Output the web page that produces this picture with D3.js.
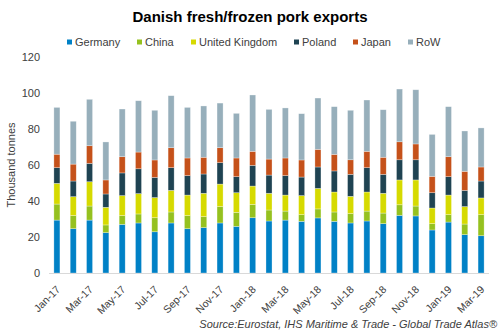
<!DOCTYPE html>
<html>
<head>
<meta charset="utf-8">
<script src="https://d3js.org/d3.v7.min.js"></script>
<style>
  body { margin: 0; background: #fff; }
  text { font-family: "Liberation Sans", Arial, sans-serif; }
</style>
</head>
<body>
<div id="chart"></div>
<script>
// months on the x axis
var months = ["Jan-17","Feb-17","Mar-17","Apr-17","May-17","Jun-17","Jul-17","Aug-17","Sep-17","Oct-17","Nov-17","Dec-17",
              "Jan-18","Feb-18","Mar-18","Apr-18","May-18","Jun-18","Jul-18","Aug-18","Sep-18","Oct-18","Nov-18","Dec-18",
              "Jan-19","Feb-19","Mar-19"];

// thousand tonnes per destination
var germany = [29.4,24.6,29.4,22.4,27.0,27.8,22.9,27.8,24.6,25.2,27.8,25.9,30.7,28.9,29.4,28.7,30.6,28.7,27.8,28.9,27.4,32.0,31.7,23.9,28.3,21.3,20.7];
var china   = [8.9,7.3,7.8,4.3,4.9,5.0,7.8,6.1,7.3,6.1,9.1,7.8,7.4,6.1,5.0,3.7,5.0,5.2,5.2,5.5,5.9,5.9,5.5,3.5,4.1,5.9,11.7];
var uk      = [11.5,10.5,13.5,9.8,11.1,11.3,11.2,12.0,11.4,13.0,12.5,10.9,10.2,9.3,8.9,10.6,11.4,11.1,9.6,10.6,11.0,13.8,14.5,8.7,10.9,9.7,9.3];
var poland  = [8.7,8.7,10.2,7.4,12.6,13.8,11.2,12.6,10.8,10.7,11.9,8.9,11.5,10.1,10.8,10.3,11.9,11.7,12.2,13.5,10.5,11.2,11.2,8.5,10.2,9.0,9.4];
var japan   = [7.5,9.4,9.8,7.8,9.0,9.3,9.7,11.1,9.8,9.3,8.3,10.4,7.8,8.9,9.8,9.5,9.8,9.2,8.1,9.1,9.5,10.0,8.8,9.1,11.1,10.6,7.8];
var row     = [26.0,23.8,25.8,21.1,26.5,28.5,27.6,28.9,28.1,28.5,24.8,24.8,31.3,27.6,27.8,25.7,28.5,26.5,27.5,28.5,26.4,29.3,30.1,23.3,27.8,22.4,21.7];

var seriesNames = ["Germany","China","United Kingdom","Poland","Japan","RoW"];
var seriesValues = [germany, china, uk, poland, japan, row];
var colors = ["#0081c6","#95c11f","#d6da00","#1f4352","#c5511a","#97afbb"];
var yTicks = [0,20,40,60,80,100,120];

var W = 500, H = 334;
var margin = {top: 57, right: 11, bottom: 61, left: 49};

var svg = d3.select("#chart").append("svg")
  .attr("width", W).attr("height", H);

// build rows for stacking
var table = months.map(function(m, i) {
  var o = {month: m};
  seriesNames.forEach(function(s, j) { o[s] = seriesValues[j][i]; });
  return o;
});
var stacked = d3.stack().keys(seriesNames)(table);

var x = d3.scaleBand()
  .domain(months)
  .range([margin.left, W - margin.right])
  .paddingInner(0.63)
  .paddingOuter(0.3);

var y = d3.scaleLinear()
  .domain([0, 120])
  .range([H - margin.bottom, margin.top]);

var color = d3.scaleOrdinal().domain(seriesNames).range(colors);

// title
svg.append("text")
  .attr("x", 250).attr("y", 22)
  .attr("text-anchor", "middle")
  .style("font-size", "15px")
  .style("font-weight", "bold")
  .style("fill", "#000")
  .text("Danish fresh/frozen pork exports");

// legend
var legendX = [67, 137, 191, 294, 353, 408];
var legend = svg.append("g");
seriesNames.forEach(function(s, i) {
  legend.append("rect")
    .attr("x", legendX[i]).attr("y", 39.5)
    .attr("width", 5).attr("height", 5)
    .attr("fill", color(s));
  legend.append("text")
    .attr("x", legendX[i] + 8).attr("y", 46)
    .style("font-size", "11px")
    .style("fill", "#404040")
    .text(s);
});

// bars
svg.append("g")
  .selectAll("g")
  .data(stacked)
  .join("g")
    .attr("fill", function(d) { return color(d.key); })
  .selectAll("rect")
  .data(function(d) { return d; })
  .join("rect")
    .attr("x", function(d) { return x(d.data.month); })
    .attr("y", function(d) { return y(d[1]); })
    .attr("width", x.bandwidth())
    .attr("height", function(d) { return y(d[0]) - y(d[1]); })
    .attr("stroke", "#ffffff")
    .attr("stroke-opacity", 0.5)
    .attr("stroke-width", 0.6);

// y axis (labels only)
var yAxis = svg.append("g")
  .attr("transform", "translate(" + margin.left + ",0)")
  .call(d3.axisLeft(y).tickValues(yTicks).tickSize(0).tickPadding(9));
yAxis.select(".domain").remove();
yAxis.selectAll("text")
  .style("font-size", "11px")
  .style("fill", "#404040")
  .style("font-family", "\"Liberation Sans\", Arial, sans-serif");

// baseline
svg.append("line")
  .attr("x1", margin.left).attr("x2", W - margin.right)
  .attr("y1", y(0) + 0.5).attr("y2", y(0) + 0.5)
  .attr("stroke", "#d9d9d9").attr("stroke-width", 1);

// x axis, every second month
var xAxis = svg.append("g")
  .attr("transform", "translate(0," + y(0) + ")")
  .call(d3.axisBottom(x)
    .tickValues(months.filter(function(m, i) { return i % 2 === 0; }))
    .tickSize(0).tickPadding(0));
xAxis.select(".domain").remove();
xAxis.selectAll("text")
  .attr("text-anchor", "end")
  .attr("dy", "0")
  .attr("transform", "translate(4,17) rotate(-45)")
  .style("font-size", "10.5px")
  .style("fill", "#404040")
  .style("font-family", "\"Liberation Sans\", Arial, sans-serif");

// y axis title
svg.append("text")
  .attr("transform", "translate(15," + ((margin.top + H - margin.bottom) / 2) + ") rotate(-90)")
  .attr("text-anchor", "middle")
  .style("font-size", "11px")
  .style("fill", "#404040")
  .text("Thousand tonnes");

// source
svg.append("text")
  .attr("x", 497).attr("y", 328)
  .attr("text-anchor", "end")
  .style("font-size", "11px")
  .style("font-style", "italic")
  .style("fill", "#404040")
  .text("Source:Eurostat, IHS Maritime & Trade - Global Trade Atlas\u00ae");
</script>
</body>
</html>
